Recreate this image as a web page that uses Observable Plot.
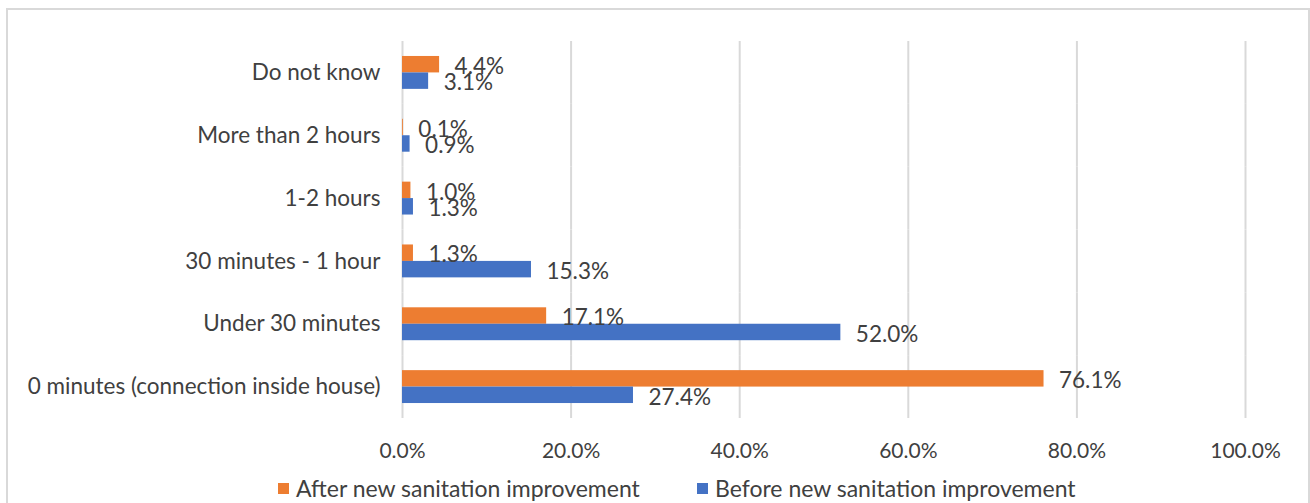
<!DOCTYPE html>
<html>
<head>
<meta charset="utf-8">
<script src="https://cdn.jsdelivr.net/npm/d3@7"></script>
<script src="https://cdn.jsdelivr.net/npm/@observablehq/plot@0.6"></script>
<style>
  html, body { margin: 0; padding: 0; background: #fff; width: 1310px; height: 503px; overflow: hidden; }
  #wrap { position: relative; width: 1310px; height: 503px; font-family: Lato, "Noto Sans", sans-serif; color: #404040; }
  #frame { position: absolute; left: 6px; top: 8px; width: 1304px; height: 600px; border: 2px solid #d9d9d9; box-sizing: border-box; }
  #chart { position: absolute; left: 0; top: 0; }
  #legend { position: absolute; left: 0; top: 474px; width: 1310px; height: 28px; font-size: 23px; }
  .item { position: absolute; top: 0; display: flex; align-items: center; height: 28px; }
  .sw { width: 11px; height: 11px; margin-right: 7px; }
</style>
</head>
<body>
<div id="wrap">
  <div id="frame"></div>
  <div id="chart"></div>
  <div id="legend"></div>
</div>
<script>
const categories = ["Do not know", "More than 2 hours", "1-2 hours", "30 minutes - 1 hour", "Under 30 minutes", "0 minutes (connection inside house)"];
const seriesNames = ["After new sanitation improvement", "Before new sanitation improvement"];
const afterValues = [4.4, 0.1, 1.0, 1.3, 17.1, 76.1];
const beforeValues = [3.1, 0.9, 1.3, 15.3, 52.0, 27.4];
const xTicks = [0, 20, 40, 60, 80, 100];
const colors = ["#ED7D31", "#4472C4"];

const data = categories.flatMap((c, i) => [
  {cat: c, series: seriesNames[0], value: afterValues[i]},
  {cat: c, series: seriesNames[1], value: beforeValues[i]}
]);
const fmt = d => d.toFixed(1) + "%";

const chart = Plot.plot({
  width: 1310,
  height: 470,
  marginTop: 41,
  marginBottom: 52,
  marginLeft: 402,
  marginRight: 65,
  style: {fontFamily: "Lato, 'Noto Sans', sans-serif", fontSize: "20px", color: "#404040", background: "transparent", overflow: "visible"},
  x: {domain: [0, 100], ticks: xTicks, tickFormat: fmt},
  fy: {domain: categories, padding: 0, round: false},
  y: {domain: seriesNames, paddingInner: 0, paddingOuter: 0.91, round: false},
  color: {domain: seriesNames, range: colors},
  marks: [
    Plot.gridX(xTicks, {stroke: "#d9d9d9", strokeOpacity: 1, strokeWidth: 2}),
    Plot.barX(data, {fy: "cat", y: "series", x: "value", fill: "series"}),
    Plot.text(data, {fy: "cat", y: "series", x: "value", text: d => fmt(d.value), dx: 15, dy: 2, textAnchor: "start", fill: "#404040", fontSize: 22.5}),
    Plot.axisX({ticks: xTicks, tickFormat: fmt, tickSize: 0, tickPadding: 25, fontSize: 21, label: null}),
    Plot.axisFy({anchor: "left", tickSize: 0, tickPadding: 22, fontSize: 22.5, label: null}),
    Plot.axisY({ticks: [], label: null, tickSize: 0})
  ]
});
document.getElementById("chart").appendChild(chart);

const legend = document.getElementById("legend");
const lx = [278, 697];
seriesNames.forEach((s, i) => {
  const it = document.createElement("div");
  it.className = "item";
  it.style.left = lx[i] + "px";
  const sw = document.createElement("div");
  sw.className = "sw";
  sw.style.background = colors[i];
  const t = document.createElement("span");
  t.textContent = s;
  it.appendChild(sw);
  it.appendChild(t);
  legend.appendChild(it);
});
</script>
</body>
</html>
